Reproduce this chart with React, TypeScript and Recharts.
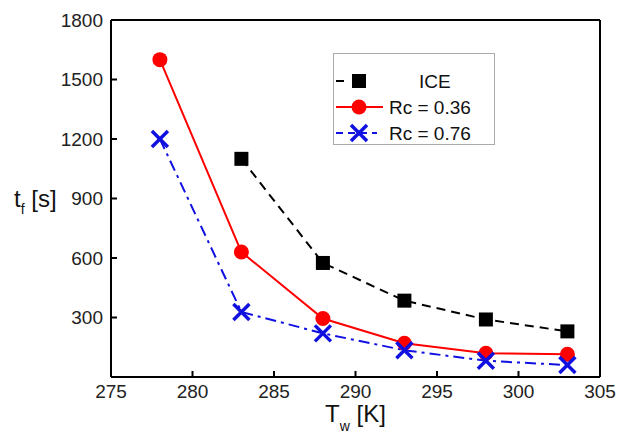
import { LineChart, Line, XAxis, YAxis, ReferenceLine, Legend } from "recharts";

const temps = [278, 283, 288, 293, 298, 303];
const iceTimes = [null, 1100, 575, 385, 290, 230];
const rc036Times = [1600, 630, 295, 170, 120, 115];
const rc076Times = [1200, 328, 220, 135, 82, 60];
const xTicks = [275, 280, 285, 290, 295, 300, 305];
const yTicks = [300, 600, 900, 1200, 1500, 1800];

const rows = temps.map((t, i) => ({
  tw: t,
  ice: iceTimes[i],
  rc036: rc036Times[i],
  rc076: rc076Times[i],
}));

const FONT = "'Liberation Sans', Arial, sans-serif";

const SquareDot = (props: any) => {
  const { cx, cy, value, index } = props;
  if (value == null || cx == null || cy == null) return <g key={`s${index}`} />;
  return <rect key={`s${index}`} x={cx - 7} y={cy - 7} width={14} height={14} fill="#000" />;
};

const CircleDot = (props: any) => {
  const { cx, cy, index } = props;
  return <circle key={`c${index}`} cx={cx} cy={cy} r={7.5} fill="#f00" />;
};

const CrossDot = (props: any) => {
  const { cx, cy, index } = props;
  return (
    <g key={`x${index}`} stroke="#1010e0" strokeWidth={3.5}>
      <line x1={cx - 8} y1={cy - 8} x2={cx + 8} y2={cy + 8} />
      <line x1={cx - 8} y1={cy + 8} x2={cx + 8} y2={cy - 8} />
    </g>
  );
};

const XTitle = (props: any) => {
  const vb = props.viewBox;
  return (
    <text x={vb.x + vb.width / 2} y={vb.y + 45} textAnchor="middle" fontSize={24} fontFamily={FONT} fill="#111">
      T<tspan fontSize={14} dy={9}>w</tspan>
      <tspan dy={-9}> [K]</tspan>
    </text>
  );
};

const YTitle = () => (
  <text x={14} y={207} fontSize={24} fontFamily={FONT} fill="#111">
    t<tspan fontSize={14} dy={7}>f</tspan>
    <tspan dy={-7}> [s]</tspan>
  </text>
);

const LegendBox = () => (
  <svg width={162} height={92} style={{ display: "block" }}>
    <rect x={0.5} y={0.5} width={161} height={91} fill="#fff" stroke="#aaa" />
    <g fontFamily={FONT} fontSize={19} fill="#111">
      <line x1={3} y1={28} x2={48} y2={28} stroke="#000" strokeWidth={2} strokeDasharray="8 10 2 30" />
      <rect x={19} y={21} width={14} height={14} fill="#000" />
      <text x={86} y={35}>ICE</text>
      <line x1={3} y1={54} x2={50} y2={54} stroke="#f00" strokeWidth={2} />
      <circle cx={26} cy={54} r={7.5} fill="#f00" />
      <text x={56} y={61}>Rc = 0.36</text>
      <line x1={3} y1={80} x2={44} y2={80} stroke="#1010e0" strokeWidth={2} strokeDasharray="7 5" />
      <g stroke="#1010e0" strokeWidth={3.5}>
        <line x1={18} y1={72} x2={34} y2={88} />
        <line x1={18} y1={88} x2={34} y2={72} />
      </g>
      <text x={56} y={87}>Rc = 0.76</text>
    </g>
  </svg>
);

export default function App() {
  const tickStyle = { fontSize: 19, fontFamily: FONT, fill: "#222" };
  return (
    <div style={{ position: "absolute", left: 0, top: 0, width: 625, height: 446, background: "#fff" }}>
      <LineChart width={625} height={446} data={rows} margin={{ top: 20, right: 25, bottom: 9, left: 0 }}>
        <XAxis
          dataKey="tw"
          type="number"
          domain={[275, 305]}
          ticks={xTicks}
          height={60}
          tick={tickStyle}
          tickSize={-6}
          tickMargin={14}
          stroke="#000"
          strokeWidth={2}
          label={<XTitle />}
        />
        <YAxis
          type="number"
          domain={[0, 1800]}
          ticks={yTicks}
          width={111}
          tick={tickStyle}
          tickSize={-6}
          tickMargin={14}
          stroke="#000"
          strokeWidth={2}
          label={<YTitle />}
        />
        <ReferenceLine y={1800} stroke="#000" strokeWidth={2} />
        <ReferenceLine x={305} stroke="#000" strokeWidth={2} />
        <Legend
          layout="vertical"
          align="center"
          verticalAlign="middle"
          wrapperStyle={{ left: 333, top: 53, width: 162, height: 92 }}
          content={<LegendBox />}
        />
        <Line
          dataKey="ice"
          stroke="#000"
          strokeWidth={2}
          strokeDasharray="9 6"
          dot={SquareDot}
          activeDot={false}
          isAnimationActive={false}
        />
        <Line
          dataKey="rc036"
          stroke="#f00"
          strokeWidth={2}
          dot={CircleDot}
          activeDot={false}
          isAnimationActive={false}
        />
        <Line
          dataKey="rc076"
          stroke="#1010e0"
          strokeWidth={2}
          strokeDasharray="11 5 3 5"
          dot={CrossDot}
          activeDot={false}
          isAnimationActive={false}
        />
      </LineChart>
    </div>
  );
}
